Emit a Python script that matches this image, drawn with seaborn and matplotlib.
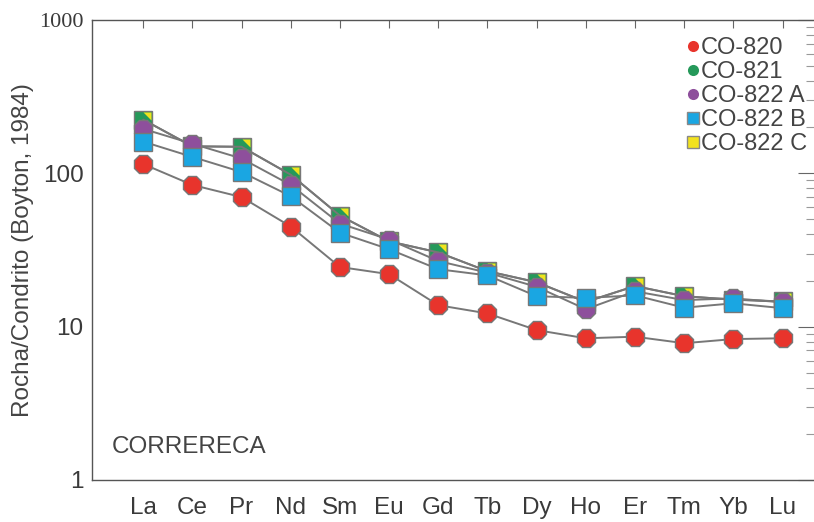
import numpy as np
import pandas as pd
import matplotlib
matplotlib.use("Agg")
import matplotlib.pyplot as plt
from matplotlib.lines import Line2D
from matplotlib.ticker import LogLocator, NullFormatter
import seaborn as sns

elements = ["La", "Ce", "Pr", "Nd", "Sm", "Eu", "Gd", "Tb", "Dy", "Ho", "Er", "Tm", "Yb", "Lu"]
co820 = [115, 84, 70, 45, 24.5, 22, 13.8, 12.2, 9.5, 8.4, 8.6, 7.8, 8.3, 8.4]
co821 = [224, 150, 149, 98, 53, 36, 30.5, 23, 19.5, 14.5, 18.4, 15.8, 15.0, 14.6]
co822a = [195, 156, 125, 84, 47, 37, 26.8, 22.5, 18.2, 13.0, 17.0, 14.9, 15.3, 14.4]
co822b = [161, 128, 102, 71, 41, 32, 23.7, 21.6, 15.8, 15.4, 16.0, 13.3, 14.2, 13.2]
co822c = [224, 150, 149, 98, 53, 36, 30.5, 23, 19.5, 14.5, 18.4, 15.8, 15.0, 14.6]
series_names = ["CO-820", "CO-821", "CO-822 A", "CO-822 B", "CO-822 C"]
ytick_vals = [1, 10, 100, 1000]
ytick_labels = ["1", "10", "100", "1000"]

colors = {"CO-820": "#e8342c", "CO-821": "#25995a", "CO-822 A": "#8e4f9c",
          "CO-822 B": "#1aa6e2", "CO-822 C": "#f2e21e"}

x = np.arange(len(elements))
df = pd.concat([
    pd.DataFrame({"x": x, "val": v, "sample": n})
    for n, v in zip(series_names, [co820, co821, co822a, co822b, co822c])
])

sns.set_style("white")
plt.rcParams["font.family"] = ["Liberation Sans", "DejaVu Sans"]

fig = plt.figure(figsize=(8.14, 5.22), dpi=100)
ax = fig.add_axes([92/814, 42/522, 724/814, 460/522])

line_col = "#777777"
ms_circ = 14
ms_sq = 13.5

styles = [
    ("CO-821", dict(marker="s", markersize=ms_sq, markerfacecolor=colors["CO-821"],
                    markeredgecolor=line_col, markeredgewidth=1.0), 2.0),
    ("CO-822 C", dict(marker=[(-0.05, 0.95), (0.95, 0.95), (0.95, -0.05)], markersize=12,
                      markerfacecolor=colors["CO-822 C"], markeredgecolor="none"), 2.1),
    ("CO-822 A", dict(marker="8", markersize=ms_circ, markerfacecolor=colors["CO-822 A"],
                      markeredgecolor=line_col, markeredgewidth=1.0), 2.2),
    ("CO-822 B", dict(marker="s", markersize=ms_sq, markerfacecolor=colors["CO-822 B"],
                      markeredgecolor=line_col, markeredgewidth=1.0), 2.3),
    ("CO-820", dict(marker="8", markersize=ms_circ, markerfacecolor=colors["CO-820"],
                    markeredgecolor=line_col, markeredgewidth=1.0), 2.4),
]
for name, kw, z in styles:
    sub = df[df["sample"] == name]
    sns.lineplot(data=sub, x="x", y="val", ax=ax, color=line_col, lw=1.4,
                 zorder=z, legend=False, **kw)

ax.set_yscale("log")
ax.set_ylim(1, 1000)
ax.set_xlim(-1.04, 13.68)
ax.set_yticks(ytick_vals)
ax.set_yticklabels(ytick_labels)
ax.yaxis.set_minor_locator(LogLocator(base=10, subs=np.arange(2, 10)))
ax.yaxis.set_minor_formatter(NullFormatter())
ax.set_xticks(x)
ax.set_xticklabels(elements)
ax.set_xlabel("")
ax.set_ylabel("Rocha/Condrito (Boyton, 1984)", fontsize=17.5, color="#444444", labelpad=4)

ax.tick_params(axis="both", which="major", direction="in", length=13, width=0.8,
               colors="#666666", labelcolor="#3a3a3a", labelsize=17.5,
               top=True, right=True)
ax.tick_params(axis="x", which="major", length=6, pad=12)
ax.tick_params(axis="y", which="major", pad=6)
ax.tick_params(axis="y", which="minor", direction="in", length=7, width=0.8,
               colors="#999999", right=True)
for lbl in ax.get_yticklabels():
    if lbl.get_text() == "1000":
        lbl.set_fontfamily("Liberation Serif")
        lbl.set_fontsize(16)

for s in ["left", "bottom", "top"]:
    ax.spines[s].set_color("#555555")
    ax.spines[s].set_linewidth(1.0)
ax.spines["right"].set_visible(False)

ax.text(0.027, 0.072, "CORRERECA", transform=ax.transAxes, fontsize=17.5,
        color="#444444", ha="left", va="center")

handles = [
    Line2D([], [], ls="none", marker="o", markersize=8, markerfacecolor=colors["CO-820"], markeredgecolor="none"),
    Line2D([], [], ls="none", marker="o", markersize=8, markerfacecolor=colors["CO-821"], markeredgecolor="none"),
    Line2D([], [], ls="none", marker="o", markersize=8, markerfacecolor=colors["CO-822 A"], markeredgecolor="none"),
    Line2D([], [], ls="none", marker="s", markersize=8, markerfacecolor=colors["CO-822 B"], markeredgecolor="#888888"),
    Line2D([], [], ls="none", marker="s", markersize=8, markerfacecolor=colors["CO-822 C"], markeredgecolor="#888888"),
]
leg = ax.legend(handles, series_names, loc="upper left", bbox_to_anchor=(0.81, 0.983),
                frameon=False, fontsize=17, handlelength=0.4, handletextpad=0.15,
                labelspacing=0.08, borderaxespad=0, labelcolor="#444444")
leg.set_zorder(5)

fig.savefig("out.png", dpi=100)
